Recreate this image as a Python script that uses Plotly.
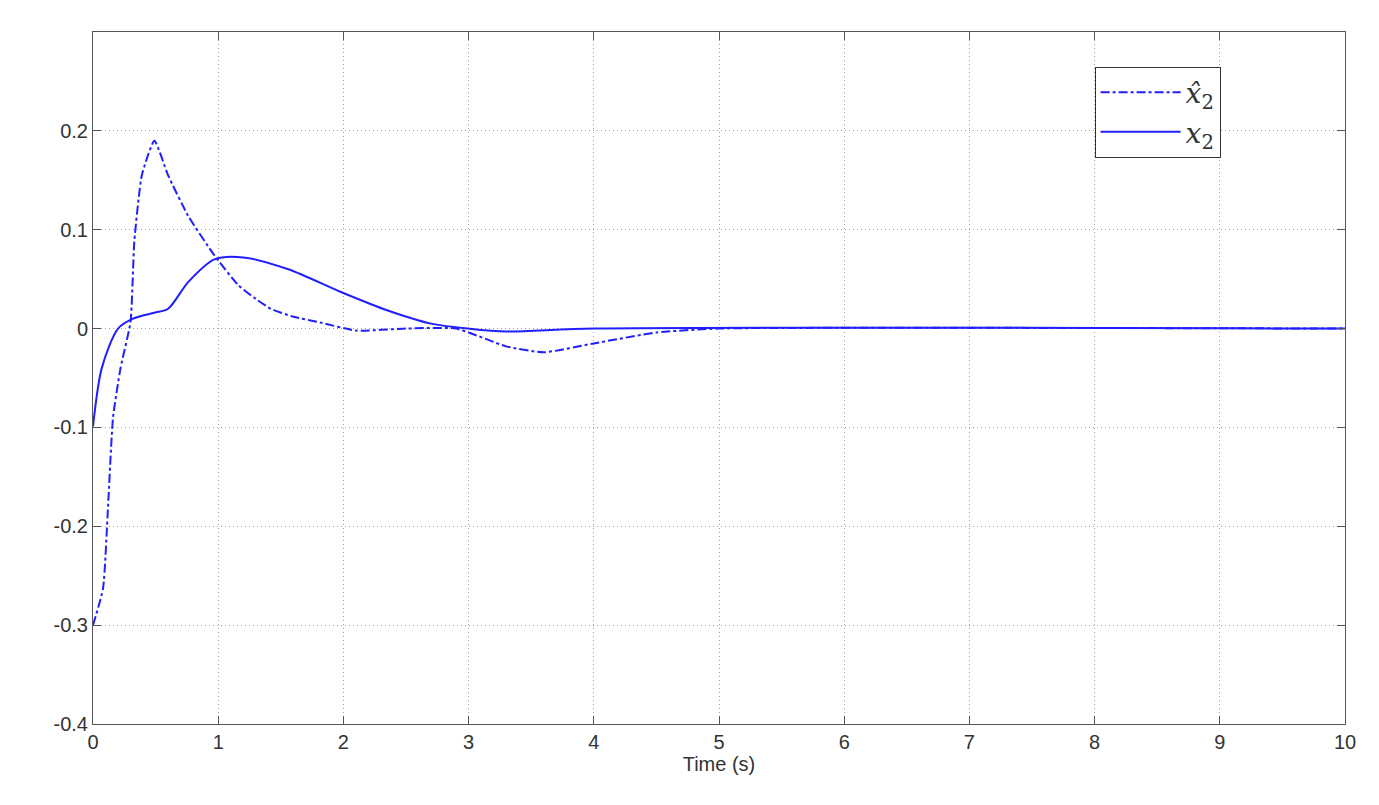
import plotly.graph_objects as go

# estimated state (dash-dot)
t_hat = [0, 0.08, 0.12, 0.16, 0.22, 0.3, 0.33, 0.39, 0.49, 0.6, 0.76, 0.97, 1.16, 1.3, 1.42, 1.6, 1.82,
         2.1, 2.5, 2.9, 3.3, 3.6, 4.0, 4.5, 5.0, 10.0]
x2_hat = [-0.3, -0.263, -0.18, -0.09, -0.04, 0.007, 0.088, 0.155, 0.19, 0.155, 0.114, 0.074,
          0.044, 0.03, 0.02, 0.012, 0.006, -0.002, 0.0, 0.0, -0.018, -0.024, -0.015, -0.004, 0.0, 0.0]

# true state (solid)
t_true = [0, 0.07, 0.2, 0.32, 0.49, 0.6, 0.76, 0.97, 1.2, 1.56, 1.98, 2.36, 2.7, 3.0, 3.3,
          4.0, 10.0]
x2_true = [-0.099, -0.04, 0.0, 0.01, 0.016, 0.02, 0.047, 0.07, 0.072, 0.06, 0.037, 0.018,
           0.005, 0.0, -0.003, 0.0, 0.0]

blue = "#1f1fff"
fig = go.Figure()
fig.add_trace(go.Scatter(x=t_hat, y=x2_hat, mode="lines", line=dict(color=blue, width=2, dash="dashdot", shape="spline", smoothing=0.5),
                         name="<i>x̂</i><sub>2</sub>"))
fig.add_trace(go.Scatter(x=t_true, y=x2_true, mode="lines", line=dict(color=blue, width=2, shape="spline", smoothing=0.8),
                         name="<i>x</i><sub>2</sub>"))

axis = dict(showgrid=True, gridcolor="#a0a0a0", griddash="1px,3px", gridwidth=1, zeroline=False,
            showline=True, linecolor="#555", linewidth=1, mirror="ticks", ticks="inside",
            ticklen=8, tickcolor="#555", automargin=False,
            tickfont=dict(size=20, color="#333", family="Liberation Sans"))
fig.update_xaxes(axis, range=[0, 10], dtick=1,
                 title=dict(text="Time (s)", font=dict(size=20, color="#333", family="Liberation Sans"), standoff=4))
fig.update_yaxes(axis, range=[-0.4, 0.3], tickvals=[-0.4, -0.3, -0.2, -0.1, 0, 0.1, 0.2],
                 ticktext=["-0.4", "-0.3", "-0.2", "-0.1", "0", "0.1", "0.2"])
fig.update_layout(width=1379, height=805, margin=dict(l=85, r=42, t=24, b=89),
                  plot_bgcolor="white", paper_bgcolor="white",
                  legend=dict(x=0.8, y=0.95, xanchor="left", yanchor="top", bgcolor="white",
                              bordercolor="#333", borderwidth=1,
                              font=dict(size=28, family="DejaVu Serif", color="#333"),
                              itemwidth=80, tracegroupgap=10))
fig.write_html("out.html")
